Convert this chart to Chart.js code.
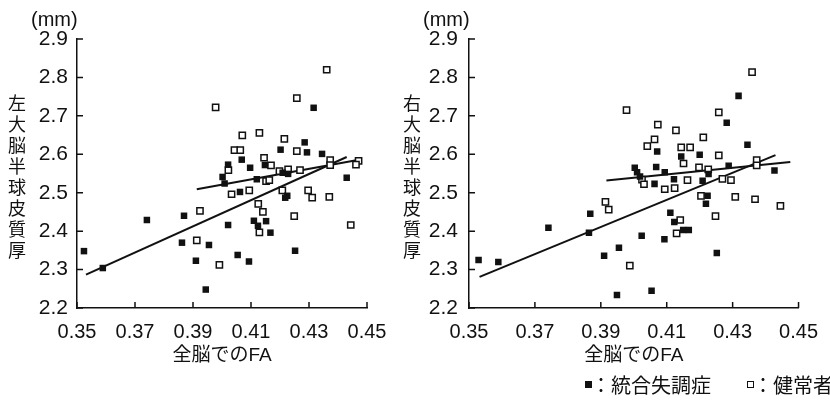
<!DOCTYPE html>
<html>
<head>
<meta charset="utf-8">
<script src="https://cdn.jsdelivr.net/npm/chart.js@4.4.0/dist/chart.umd.min.js"></script>
<style>
  body { margin: 0; background: #fff; }
  #wrap { position: relative; width: 830px; height: 400px; overflow: hidden; color: #111; }
  canvas { position: absolute; top: 0; }
  .unit { position: absolute; top: 9px; font-family: 'Liberation Sans', sans-serif; font-size: 20px; line-height: 20px; }
  .ytitle { position: absolute; top: 94px; writing-mode: vertical-rl; text-orientation: upright;
            font-family: 'Noto Sans CJK JP', sans-serif; font-size: 18px; line-height: 18px; letter-spacing: 3px; }
  .lg { position: absolute; top: 373px; font-family: 'Noto Sans CJK JP', sans-serif; font-size: 20px; line-height: 24px; white-space: nowrap; }
  .sw { position: absolute; top: 381px; width: 7px; height: 7px; box-sizing: border-box; }
</style>
</head>
<body>
<div id="wrap">
  <canvas id="chart_left" width="415" height="400" style="left:0"></canvas>
  <canvas id="chart_right" width="415" height="400" style="left:415px"></canvas>
  <div class="unit" style="left:31px">(mm)</div>
  <div class="unit" style="left:423px">(mm)</div>
  <div class="ytitle" style="left:8px">左大脳半球皮質厚</div>
  <div class="ytitle" style="left:403px">右大脳半球皮質厚</div>
  <div class="sw" style="left:585px; background:#111"></div>
  <div class="lg" style="left:591px">：統合失調症</div>
  <div class="sw" style="left:747px; background:#fff; border:1.3px solid #111"></div>
  <div class="lg" style="left:753px">：健常者</div>
</div>
<script>
// 目盛り
const xTicks = [0.35, 0.37, 0.39, 0.41, 0.43, 0.45];
const yTicks = [2.2, 2.3, 2.4, 2.5, 2.6, 2.7, 2.8, 2.9];

// 左大脳半球 - 統合失調症
const leftPatFA = [0.3524, 0.3589, 0.3741, 0.3869, 0.3862, 0.3910, 0.3955, 0.3944, 0.4021, 0.4054, 0.4093, 0.4062,
  0.4110, 0.4124, 0.4002, 0.4009, 0.4120, 0.4152, 0.4167, 0.4225, 0.4218, 0.4252, 0.4430, 0.4316, 0.4285, 0.4202,
  0.4293, 0.4345, 0.4068, 0.4021, 0.4097, 0.4148, 0.4209, 0.4228];
const leftPatThick = [2.348, 2.304, 2.429, 2.440, 2.370, 2.323, 2.364, 2.248, 2.416, 2.338, 2.321, 2.502,
  2.427, 2.414, 2.541, 2.524, 2.535, 2.426, 2.396, 2.492, 2.487, 2.349, 2.539, 2.721, 2.631, 2.612,
  2.605, 2.601, 2.586, 2.573, 2.565, 2.572, 2.552, 2.549];
// 左大脳半球 - 健常者
const leftHcFA = [0.4094, 0.4033, 0.3924, 0.4129, 0.4125, 0.4141, 0.4208, 0.4249, 0.4297, 0.4311, 0.4370, 0.4444,
  0.3913, 0.3991, 0.4361, 0.3978, 0.4258, 0.4070, 0.4129, 0.4215, 0.4043, 0.4063, 0.4258, 0.4022, 0.4145, 0.4169,
  0.4198, 0.4228, 0.4269, 0.4373, 0.4373, 0.4471, 0.4462, 0.4152, 0.4163];
const leftHcThick = [2.506, 2.496, 2.453, 2.397, 2.471, 2.450, 2.506, 2.439, 2.506, 2.487, 2.489, 2.416,
  2.376, 2.312, 2.820, 2.722, 2.746, 2.649, 2.656, 2.640, 2.611, 2.611, 2.608, 2.559, 2.591, 2.571,
  2.556, 2.561, 2.559, 2.585, 2.572, 2.583, 2.573, 2.530, 2.533];
const leftPatLine = [[0.3531, 2.287], [0.4430, 2.593]];
const leftHcLine = [[0.3913, 2.509], [0.4482, 2.587]];

// 右大脳半球 - 統合失調症
const rightPatFA = [0.4318, 0.4282, 0.4071, 0.4345, 0.4200, 0.4144, 0.4003, 0.4068, 0.4010, 0.4019, 0.4094, 0.4227,
  0.4288, 0.4427, 0.4063, 0.4122, 0.4209, 0.3868, 0.3864, 0.4224, 0.4219, 0.4111, 0.4123, 0.4150, 0.4167, 0.4024,
  0.4093, 0.3955, 0.3910, 0.4252, 0.3949, 0.4054, 0.3529, 0.3589, 0.3741];
const rightPatThick = [2.752, 2.682, 2.607, 2.625, 2.599, 2.594, 2.565, 2.567, 2.553, 2.542, 2.553, 2.549,
  2.570, 2.558, 2.523, 2.535, 2.531, 2.445, 2.396, 2.492, 2.471, 2.448, 2.424, 2.403, 2.403, 2.388,
  2.379, 2.357, 2.336, 2.343, 2.234, 2.245, 2.325, 2.320, 2.409];
// 右大脳半球 - 健常者
const rightHcFA = [0.4359, 0.3978, 0.4258, 0.4073, 0.4128, 0.4063, 0.4211, 0.4041, 0.4144, 0.4171, 0.4258, 0.4151,
  0.4198, 0.4226, 0.4373, 0.4373, 0.4025, 0.4031, 0.4163, 0.4269, 0.4295, 0.4094, 0.4124, 0.3914, 0.3924, 0.4204,
  0.4308, 0.4368, 0.4445, 0.4141, 0.4248, 0.4130, 0.3988];
const rightHcThick = [2.814, 2.715, 2.709, 2.677, 2.662, 2.639, 2.644, 2.621, 2.618, 2.618, 2.597, 2.576,
  2.566, 2.561, 2.585, 2.571, 2.534, 2.522, 2.533, 2.536, 2.533, 2.509, 2.512, 2.476, 2.456, 2.492,
  2.489, 2.483, 2.466, 2.429, 2.439, 2.394, 2.310];
const rightPatLine = [[0.3532, 2.281], [0.4430, 2.598]];
const rightHcLine = [[0.3917, 2.532], [0.4475, 2.580]];

const INK = "#111";

function pares(xs, ys) {
  return xs.map((x, i) => ({ x: x, y: ys[i] }));
}

// 目盛りを内側に描く
const innerTicks = {
  id: "innerTicks",
  afterDraw(chart) {
    const { ctx, chartArea, scales } = chart;
    ctx.save();
    ctx.strokeStyle = INK;
    ctx.lineWidth = 1.5;
    ctx.beginPath();
    scales.x.ticks.forEach((t) => {
      const px = scales.x.getPixelForValue(t.value);
      ctx.moveTo(px, chartArea.bottom);
      ctx.lineTo(px, chartArea.bottom - 6);
    });
    scales.y.ticks.forEach((t) => {
      const py = scales.y.getPixelForValue(t.value);
      ctx.moveTo(chartArea.left, py);
      ctx.lineTo(chartArea.left + 6, py);
    });
    ctx.stroke();
    ctx.restore();
  },
};

function grafico(id, patFA, patThick, hcFA, hcThick, patLine, hcLine, yWidth, padRight, yPad) {
  const ctx = document.getElementById(id).getContext("2d");
  return new Chart(ctx, {
    type: "scatter",
    data: {
      datasets: [
        {
          label: "統合失調症",
          data: pares(patFA, patThick),
          pointStyle: "rect",
          pointRadius: 4.6,
          backgroundColor: INK,
          borderColor: INK,
          borderWidth: 0,
        },
        {
          label: "健常者",
          data: pares(hcFA, hcThick),
          pointStyle: "rect",
          pointRadius: 4.4,
          backgroundColor: "#fff",
          borderColor: INK,
          borderWidth: 1.5,
        },
        {
          label: "統合失調症 回帰",
          data: patLine.map((p) => ({ x: p[0], y: p[1] })),
          showLine: true,
          pointRadius: 0,
          borderColor: INK,
          borderWidth: 2,
          fill: false,
        },
        {
          label: "健常者 回帰",
          data: hcLine.map((p) => ({ x: p[0], y: p[1] })),
          showLine: true,
          pointRadius: 0,
          borderColor: INK,
          borderWidth: 2,
          fill: false,
        },
      ],
    },
    options: {
      responsive: false,
      animation: false,
      events: [],
      layout: { padding: { left: 0, top: 39, right: padRight, bottom: 0 } },
      plugins: { legend: { display: false }, tooltip: { enabled: false } },
      scales: {
        x: {
          type: "linear",
          min: 0.35,
          max: 0.45,
          afterBuildTicks: (s) => { s.ticks = xTicks.map((v) => ({ value: v })); },
          afterFit: (s) => { s.height = 92; },
          grid: { display: true, drawOnChartArea: false, drawTicks: false },
          border: { display: true, color: INK, width: 1.5 },
          ticks: {
            color: INK,
            font: { family: "'Liberation Sans', sans-serif", size: 20 },
            padding: 12,
            maxRotation: 0,
            autoSkip: false,
            callback: (v) => Number(v).toFixed(2),
          },
          title: {
            display: true,
            text: "全脳でのFA",
            color: INK,
            font: { family: "'Liberation Sans', 'Noto Sans CJK JP', sans-serif", size: 19 },
            padding: { top: 0, bottom: 33 },
          },
        },
        y: {
          type: "linear",
          min: 2.2,
          max: 2.9,
          afterBuildTicks: (s) => { s.ticks = yTicks.map((v) => ({ value: v })); },
          afterFit: (s) => { s.width = yWidth; },
          grid: { display: true, drawOnChartArea: false, drawTicks: false },
          border: { display: true, color: INK, width: 1.5 },
          ticks: {
            color: INK,
            font: { family: "'Liberation Sans', sans-serif", size: 21 },
            padding: yPad,
            autoSkip: false,
            callback: (v) => Number(v).toFixed(1),
          },
        },
      },
    },
    plugins: [innerTicks],
  });
}

window.left = grafico("chart_left", leftPatFA, leftPatThick, leftHcFA, leftHcThick, leftPatLine, leftHcLine, 77, 48, 9);
window.right = grafico("chart_right", rightPatFA, rightPatThick, rightHcFA, rightHcThick, rightPatLine, rightHcLine, 54, 27, 11);
</script>
</body>
</html>
